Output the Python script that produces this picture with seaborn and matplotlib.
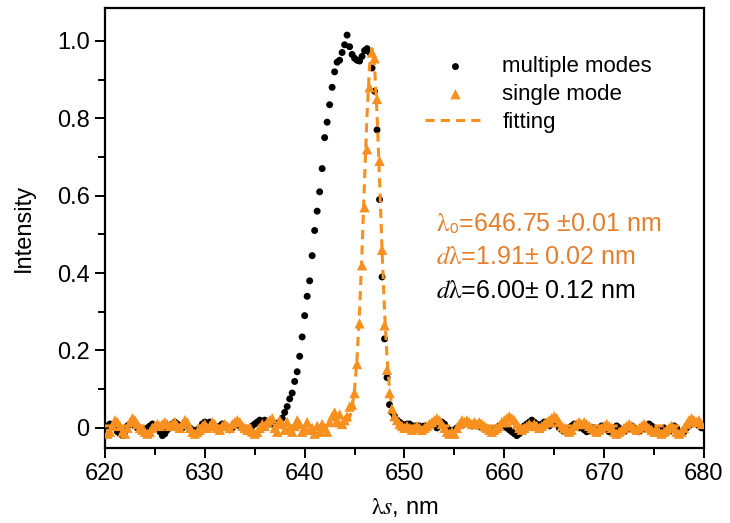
import numpy as np
import pandas as pd
import matplotlib
matplotlib.use("Agg")
import matplotlib.pyplot as plt
from matplotlib.ticker import MultipleLocator, FixedLocator, FuncFormatter
import seaborn as sns

# wavelength grid (nm): baseline left, peak region, baseline right
wl_left = [620.25, 620.5, 620.75, 621.0, 621.25, 621.5, 621.75, 622.0,
           622.25, 622.5, 622.75, 623.0, 623.25, 623.5, 623.75, 624.0,
           624.25, 624.5, 624.75, 625.0, 625.25, 625.5, 625.75, 626.0,
           626.25, 626.5, 626.75, 627.0, 627.25, 627.5, 627.75, 628.0,
           628.25, 628.5, 628.75, 629.0, 629.25, 629.5, 629.75, 630.0,
           630.25, 630.5, 630.75, 631.0, 631.25, 631.5, 631.75, 632.0,
           632.25, 632.5, 632.75, 633.0, 633.25, 633.5, 633.75, 634.0,
           634.25, 634.5, 634.75, 635.0, 635.25, 635.5, 635.75, 636.0,
           636.25, 636.5, 636.75]
wl_peak = [637.0, 637.25, 637.5, 637.75, 638.0, 638.25, 638.5, 638.75, 639.0, 639.25,
           639.5, 639.75, 640.0, 640.25, 640.5, 640.75, 641.0, 641.25, 641.5, 641.75,
           642.0, 642.25, 642.5, 642.75, 643.0, 643.25, 643.5, 643.75, 644.0, 644.25,
           644.5, 644.75, 645.0, 645.25, 645.5, 645.75, 646.0, 646.25, 646.5, 646.75,
           647.0, 647.25, 647.5, 647.75, 648.0, 648.25, 648.5, 648.75, 649.0, 649.25,
           649.5, 649.75, 650.0]
wl_right = [650.25, 650.5, 650.75, 651.0, 651.25, 651.5, 651.75, 652.0,
            652.25, 652.5, 652.75, 653.0, 653.25, 653.5, 653.75, 654.0,
            654.25, 654.5, 654.75, 655.0, 655.25, 655.5, 655.75, 656.0,
            656.25, 656.5, 656.75, 657.0, 657.25, 657.5, 657.75, 658.0,
            658.25, 658.5, 658.75, 659.0, 659.25, 659.5, 659.75, 660.0,
            660.25, 660.5, 660.75, 661.0, 661.25, 661.5, 661.75, 662.0,
            662.25, 662.5, 662.75, 663.0, 663.25, 663.5, 663.75, 664.0,
            664.25, 664.5, 664.75, 665.0, 665.25, 665.5, 665.75, 666.0,
            666.25, 666.5, 666.75, 667.0, 667.25, 667.5, 667.75, 668.0,
            668.25, 668.5, 668.75, 669.0, 669.25, 669.5, 669.75, 670.0,
            670.25, 670.5, 670.75, 671.0, 671.25, 671.5, 671.75, 672.0,
            672.25, 672.5, 672.75, 673.0, 673.25, 673.5, 673.75, 674.0,
            674.25, 674.5, 674.75, 675.0, 675.25, 675.5, 675.75, 676.0,
            676.25, 676.5, 676.75, 677.0, 677.25, 677.5, 677.75, 678.0,
            678.25, 678.5, 678.75, 679.0, 679.25, 679.5, 679.75]

# multiple modes (black dots)
multi_left = [0.005, 0.01, 0.005, 0.0, -0.01, -0.015, -0.02, -0.01,
              0.005, 0.01, 0.01, 0.005, 0.0, -0.005, -0.01, -0.005,
              0.0, 0.005, 0.01, 0.005, 0.0, -0.01, -0.02, -0.015,
              -0.005, 0.005, 0.01, 0.015, 0.01, 0.005, 0.0, 0.01,
              0.005, 0.0, -0.005, -0.01, -0.005, 0.0, 0.01, 0.015,
              0.01, 0.015, 0.01, 0.0, -0.005, 0.005, 0.01, 0.005,
              0.0, -0.005, 0.0, 0.005, 0.01, 0.005, 0.0, -0.005,
              -0.01, -0.005, 0.005, 0.01, 0.015, 0.02, 0.015, 0.02,
              0.015, 0.01, 0.01]
multi_peak = [0.01, 0.012, 0.015, 0.025, 0.04, 0.055, 0.075, 0.09, 0.12, 0.145,
              0.185, 0.235, 0.29, 0.34, 0.38, 0.445, 0.51, 0.56, 0.61, 0.67,
              0.75, 0.79, 0.835, 0.88, 0.92, 0.945, 0.95, 0.97, 0.99, 1.015,
              0.985, 0.965, 0.955, 0.95, 0.948, 0.96, 0.975, 0.98, 0.97, 0.93,
              0.87, 0.77, 0.59, 0.39, 0.23, 0.13, 0.06, 0.04, 0.03, 0.02,
              0.015, 0.01, 0.005]
multi_right = [0.01, 0.01, 0.005, 0.005, 0.0, 0.005, 0.0, 0.005,
               0.0, 0.005, 0.01, 0.005, 0.0, 0.01, 0.015, 0.01,
               0.0, -0.005, -0.01, -0.005, 0.0, 0.005, 0.01, 0.01,
               0.015, 0.01, 0.005, 0.01, 0.005, 0.005, 0.0, 0.0,
               -0.005, -0.01, -0.01, -0.005, 0.0, 0.005, 0.01, 0.005,
               0.0, -0.005, -0.01, -0.015, -0.02, -0.015, -0.005, 0.005,
               0.01, 0.015, 0.02, 0.015, 0.01, 0.005, 0.01, 0.015,
               0.01, 0.005, 0.01, 0.015, 0.01, 0.0, -0.005, -0.01,
               -0.005, 0.0, 0.005, 0.01, 0.005, 0.0, 0.0, -0.005,
               -0.01, -0.005, 0.0, 0.0, -0.005, 0.0, 0.005, 0.0,
               -0.005, -0.01, -0.005, 0.0, 0.005, 0.0, -0.005, -0.01,
               -0.005, 0.0, 0.005, 0.0, -0.005, -0.01, -0.005, 0.0,
               0.005, 0.01, 0.005, 0.0, -0.005, -0.01, -0.005, 0.0,
               -0.005, -0.01, -0.005, 0.005, 0.0, -0.01, -0.015, -0.01,
               0.0, 0.005, 0.01, 0.015, 0.01, 0.005, 0.0]

# single mode (orange triangles)
single_left = [-0.015, -0.01, 0.005, 0.02, 0.015, 0.005, -0.01, -0.015,
               0.0, 0.015, 0.025, 0.02, 0.01, 0.0, -0.005, -0.01,
               -0.015, -0.01, 0.0, 0.005, 0.01, 0.005, 0.01, 0.015,
               0.01, 0.005, 0.01, 0.015, 0.005, 0.0, 0.01, 0.02,
               0.015, 0.0, -0.01, -0.015, -0.01, -0.005, 0.005, 0.01,
               0.0, 0.005, 0.015, 0.01, 0.0, -0.005, 0.005, 0.01,
               0.005, 0.0, 0.01, 0.015, 0.02, 0.015, 0.005, 0.0,
               -0.005, 0.0, -0.01, -0.015, -0.01, 0.0, 0.01, 0.005,
               0.015, 0.02, 0.025]
single_peak = [0.0, -0.01, 0.02, 0.01, -0.005, 0.015, 0.0, -0.01, 0.005, 0.02,
               0.01, -0.01, 0.0, 0.015, -0.005, 0.0, -0.015, 0.005, -0.01, 0.01,
               0.0, -0.01, 0.015, 0.03, 0.04, 0.02, 0.035, 0.01, 0.02, 0.03,
               0.055, 0.06, 0.09, 0.165, 0.27, 0.42, 0.57, 0.72, 0.88, 0.97,
               0.955, 0.85, 0.69, 0.46, 0.265, 0.15, 0.09, 0.05, 0.03, 0.02,
               0.01, 0.005, 0.0]
single_right = [0.005, 0.0, -0.005, 0.0, 0.005, 0.0, -0.005, 0.0,
                0.005, 0.01, 0.015, 0.02, 0.025, 0.02, 0.01, 0.0,
                -0.01, -0.015, -0.01, -0.015, 0.0, 0.01, 0.02, 0.015,
                0.02, 0.015, 0.01, 0.015, 0.01, 0.015, 0.01, 0.005,
                0.0, -0.005, -0.01, -0.005, 0.0, 0.005, 0.015, 0.02,
                0.025, 0.03, 0.025, 0.02, 0.01, 0.0, -0.005, 0.0,
                0.005, 0.01, 0.005, 0.01, 0.005, 0.0, 0.005, 0.01,
                0.015, 0.02, 0.025, 0.03, 0.025, 0.015, 0.005, 0.0,
                -0.005, -0.01, -0.005, 0.005, 0.01, 0.015, 0.01, 0.015,
                0.01, 0.005, 0.0, -0.005, -0.01, -0.005, 0.0, 0.005,
                0.01, 0.005, 0.0, -0.01, -0.015, -0.01, -0.005, 0.0,
                0.005, 0.01, 0.005, 0.0, -0.005, 0.0, 0.005, 0.01,
                0.005, 0.0, -0.005, -0.01, -0.005, -0.01, -0.015, -0.01,
                -0.005, 0.0, 0.005, 0.0, -0.01, -0.015, -0.01, 0.0,
                0.01, 0.02, 0.025, 0.02, 0.015, 0.02, 0.01]

# Gaussian fit of the single mode line (dashed)
fit_wl = [620.0, 643.0, 643.5, 644.0, 644.25, 644.5, 644.75, 645.0, 645.25, 645.5, 645.75,
          646.0, 646.25, 646.5, 646.75, 647.0, 647.25, 647.5, 647.75, 648.0, 648.25,
          648.5, 648.75, 649.0, 649.25, 649.5, 650.0, 680.0]
fit_val = [0.005, 0.005, 0.005, 0.008, 0.013, 0.026, 0.052, 0.10, 0.182, 0.302, 0.461,
           0.641, 0.811, 0.935, 0.98, 0.935, 0.811, 0.641, 0.461, 0.302, 0.182,
           0.10, 0.052, 0.026, 0.013, 0.008, 0.005, 0.005]

df = pd.DataFrame({"wl": wl_left + wl_peak + wl_right,
                   "multi": multi_left + multi_peak + multi_right,
                   "single": single_left + single_peak + single_right})
fit = pd.DataFrame({"wl": fit_wl, "val": fit_val})

orange = "#F7901E"
text_orange = "#E47F2E"

sns.set_style("ticks")
plt.rcParams["font.family"] = ["Liberation Sans", "DejaVu Sans"]
plt.rcParams["mathtext.fontset"] = "stix"
for key in ["text.color", "axes.labelcolor", "xtick.color", "ytick.color", "axes.edgecolor"]:
    plt.rcParams[key] = "black"

fig = plt.figure(figsize=(7.3, 5.23), dpi=100)
ax = fig.add_axes([105 / 730, 75 / 523, 599 / 730, 440 / 523])

sns.scatterplot(data=df, x="wl", y="multi", ax=ax, color="black", marker="o",
                s=25, edgecolor="none", label="multiple modes", zorder=3)
sns.lineplot(data=fit, x="wl", y="val", ax=ax, color=orange, lw=2.2,
             linestyle=(0, (3, 2)), label="fitting", zorder=4)
sns.scatterplot(data=df, x="wl", y="single", ax=ax, color=orange, marker="^",
                s=55, edgecolor="none", label="single mode", zorder=5)

ax.set_xlim(620, 680)
ax.set_ylim(-0.052, 1.085)
ax.xaxis.set_major_locator(MultipleLocator(10))
ax.xaxis.set_minor_locator(MultipleLocator(5))
ax.yaxis.set_major_locator(FixedLocator([0, 0.2, 0.4, 0.6, 0.8, 1.0]))
ax.yaxis.set_minor_locator(MultipleLocator(0.1))
ax.yaxis.set_major_formatter(FuncFormatter(lambda v, p: "0" if abs(v) < 1e-9 else f"{v:.1f}"))
ax.tick_params(which="major", direction="out", length=7, width=1.4, labelsize=17, pad=4)
ax.tick_params(which="minor", direction="out", length=5, width=1.4)
for sp in ax.spines.values():
    sp.set_linewidth(1.6)
    sp.set_visible(True)

ax.set_xlabel(r"$\mathrm{\lambda}s$, nm", fontsize=17, labelpad=8)
ax.set_ylabel("Intensity", fontsize=17, labelpad=16)

h, l = ax.get_legend_handles_labels()
order = [l.index("multiple modes"), l.index("single mode"), l.index("fitting")]
ax.legend([h[i] for i in order], [l[i] for i in order], loc="upper left",
          bbox_to_anchor=(0.535, 0.89), frameon=False, fontsize=16,
          handlelength=2.7, handletextpad=0.75, labelspacing=0.3,
          borderpad=0, borderaxespad=0)

ax.text(653.2, 0.527, r"$\mathrm{\lambda}$₀=646.75 ±0.01 nm", color=text_orange, fontsize=18, va="center")
ax.text(653.2, 0.442, r"$d\mathrm{\lambda}$=1.91± 0.02 nm", color=text_orange, fontsize=18, va="center")
ax.text(653.2, 0.354, r"$d\mathrm{\lambda}$=6.00± 0.12 nm", color="black", fontsize=18, va="center")

fig.savefig("out.png", dpi=100)
